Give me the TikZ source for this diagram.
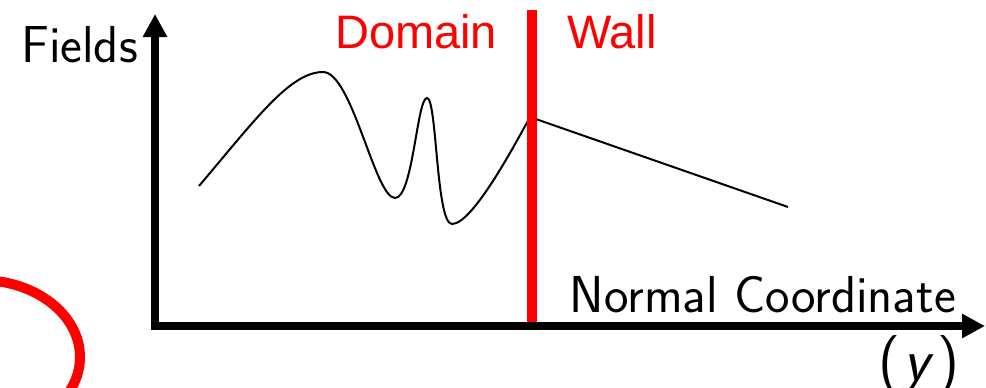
\documentclass[tikz,border=0pt]{standalone}
\usepackage{fontspec}
\usetikzlibrary{arrows.meta}
\newfontfamily\arialfont{Liberation Sans}
\newfontfamily\lmssxvii{lmsans17-regular.otf}[ItalicFont=lmsans17-oblique.otf]
\tikzset{
  axis/.style={line width=8.5pt, -{Triangle[length=23pt,width=23pt]}},
  wallline/.style={draw=red, line width=10pt},
  fieldcurve/.style={draw=black, line width=2pt},
  loopline/.style={draw=red, line width=10pt},
  lab/.style={inner sep=0pt, font=\lmssxvii\fontsize{52}{56}\selectfont},
  redlab/.style={inner sep=0pt, text=red, font=\arialfont\fontsize{47}{50}\selectfont},
}
\begin{document}
\begin{tikzpicture}[x=1pt,y=-1pt]
\useasboundingbox (0,0) rectangle (986,388);
\begin{scope}
\clip (0,0) rectangle (986,388);
\draw[loopline] (-20,357) ellipse [x radius=100, y radius=77];
\end{scope}
% field curve
\coordinate (c0) at (199,186);
\coordinate (c1) at (323,72);
\coordinate (c2) at (395,198);
\coordinate (c3) at (427,98);
\coordinate (c4) at (452,224);
\coordinate (c5) at (530,117);
\coordinate (c6) at (788,207);
\draw[fieldcurve] (c0) .. controls (255,120) and (290,72) .. (c1)
  .. controls (352,72) and (375,198) .. (c2)
  .. controls (413,198) and (417,98) .. (c3)
  .. controls (437,98) and (436,224) .. (c4)
  .. controls (472,224) and (512,150) .. (c5)
  -- (c6);
% wall
\coordinate (wtop) at (532,9.5);
\coordinate (wbot) at (532,326);
\draw[wallline] (wtop) -- (wbot);
% axes
\coordinate (o) at (155,326);
\coordinate (ytip) at (155,14);
\coordinate (xo) at (150.75,326);
\coordinate (xtip) at (985,326);
\draw[axis] (o) -- (ytip);
\draw[axis] (xo) -- (xtip);
% labels
\node[lab, anchor=base west] (fields) at (21,62) {Fields};
\node[lab, anchor=base east] (normal) at (956,312) {Normal Coordinate};
\node[lab, anchor=base, font=\lmssxvii\fontsize{60}{64}\selectfont] (ylab) at (919,380) {(\kern3pt\textit{y}\kern3pt)};
\node[redlab, anchor=base west] (domain) at (335,48) {Domain};
\node[redlab, anchor=base west] (wall) at (567,48) {Wall};
\end{tikzpicture}
\end{document}
